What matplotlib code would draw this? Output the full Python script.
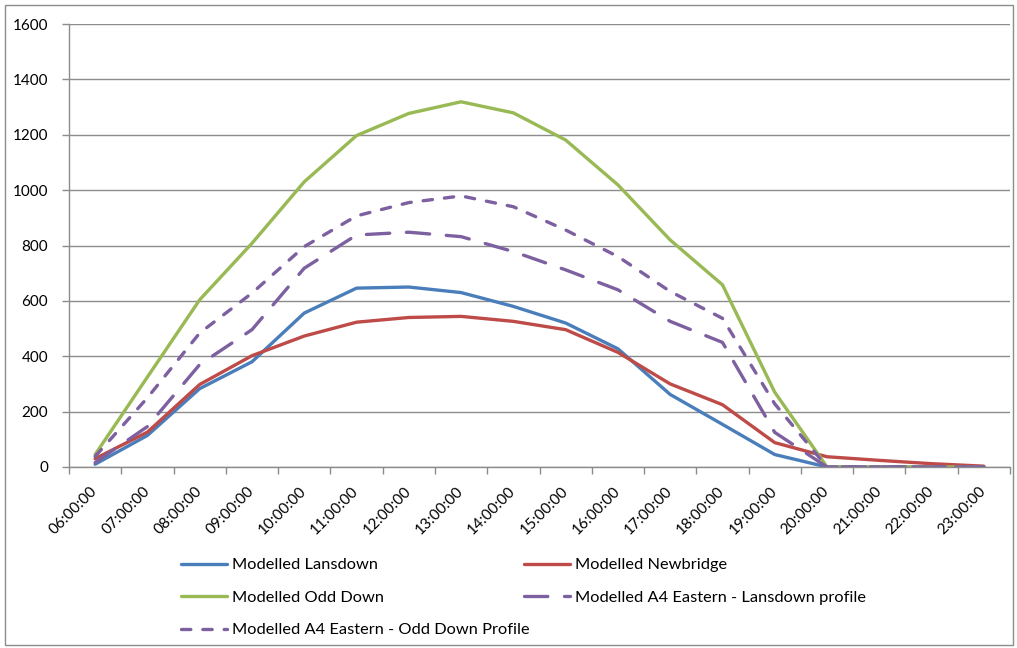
import matplotlib
matplotlib.use("Agg")
import matplotlib.pyplot as plt
from matplotlib.patches import Rectangle

plt.rcParams['font.family'] = ['Lato', 'DejaVu Sans']

# Hourly modelled flows
hours = ['06:00:00', '07:00:00', '08:00:00', '09:00:00', '10:00:00', '11:00:00',
         '12:00:00', '13:00:00', '14:00:00', '15:00:00', '16:00:00', '17:00:00',
         '18:00:00', '19:00:00', '20:00:00', '21:00:00', '22:00:00', '23:00:00']
lansdown = [10, 114, 283, 380, 556, 646, 650, 630, 580, 520, 427, 262, 154, 45, 0, 0, 0, 0]
newbridge = [30, 126, 298, 402, 473, 523, 540, 544, 526, 496, 414, 300, 225, 88, 37, 24, 12, 3]
odd_down = [45, 325, 604, 808, 1030, 1197, 1277, 1319, 1279, 1181, 1019, 820, 658, 270, 0, 0, 0, 0]
a4_lansdown = [16, 146, 370, 496, 718, 838, 848, 832, 778, 712, 640, 526, 450, 125, 0, 0, 0, 0]
a4_odd_down = [38, 250, 484, 628, 796, 907, 955, 979, 940, 856, 760, 634, 537, 228, 0, 0, 0, 0]

series_names = ['Modelled Lansdown', 'Modelled Newbridge', 'Modelled Odd Down',
                'Modelled A4 Eastern - Lansdown profile',
                'Modelled A4 Eastern - Odd Down Profile']
y_ticks = [0, 200, 400, 600, 800, 1000, 1200, 1400, 1600]

BLUE = '#4A7EBB'
RED = '#BE4B48'
GREEN = '#98B954'
PURPLE = '#7D60A0'
GRID = '#8C8C8C'

W, H = 1017, 648
fig = plt.figure(figsize=(W / 100, H / 100), dpi=100)
ax = fig.add_axes([69 / W, 1 - 467 / H, (1010 - 69) / W, (467 - 24) / H])

x = list(range(len(hours)))
lw = 2.4
common = dict(linewidth=lw, solid_joinstyle='round', solid_capstyle='round',
              dash_capstyle='round', dash_joinstyle='round')

l1, = ax.plot(x, lansdown, color=BLUE, label=series_names[0], **common)
l2, = ax.plot(x, newbridge, color=RED, label=series_names[1], **common)
l3, = ax.plot(x, odd_down, color=GREEN, label=series_names[2], **common)
l4, = ax.plot(x, a4_lansdown, color=PURPLE, label=series_names[3], **common)
l4.set_dashes([7.0, 5.0])
l5, = ax.plot(x, a4_odd_down, color=PURPLE, label=series_names[4], **common)
l5.set_dashes([2.8, 3.6])

ax.set_xlim(-0.5, len(hours) - 0.5)
ax.set_ylim(0, 1600)
ax.set_yticks(y_ticks)
ax.yaxis.grid(True, color=GRID, linewidth=1.0)
ax.set_axisbelow(True)

# category boundaries carry the tick marks, centres carry the labels
ax.set_xticks([i - 0.5 for i in range(len(hours) + 1)])
ax.set_xticklabels([])
ax.set_xticks(x, minor=True)
ax.set_xticklabels(hours, minor=True, rotation=45, ha='right',
                   rotation_mode='anchor', va='center')
ax.tick_params(axis='x', which='major', length=5, width=1, color=GRID, direction='out')
ax.tick_params(axis='x', which='minor', length=0, pad=16, labelsize=11)
ax.tick_params(axis='y', length=5, width=1, color=GRID, direction='out',
               labelsize=11, pad=10)

for side in ('top', 'right'):
    ax.spines[side].set_visible(False)
for side in ('left', 'bottom'):
    ax.spines[side].set_color(GRID)
    ax.spines[side].set_linewidth(1.0)

# legend: two columns laid out row by row
leg_kw = dict(frameon=False, fontsize=11.8, handlelength=2.8, handletextpad=0.3,
              labelspacing=1.1, borderpad=0, borderaxespad=0)
leg1 = fig.legend(handles=[l1, l3, l5], loc='upper left',
                  bbox_to_anchor=(181 / W, 1 - 558 / H), **leg_kw)
leg2 = fig.legend(handles=[l2, l4], loc='upper left',
                  bbox_to_anchor=(524 / W, 1 - 558 / H), **leg_kw)

# chart frame
fig.patches.append(Rectangle((5 / W, 3 / H), (W - 9) / W, (H - 8) / H,
                             transform=fig.transFigure, fill=False,
                             edgecolor='#8C8C8C', linewidth=1.0))

fig.savefig('out.png', dpi=100)
